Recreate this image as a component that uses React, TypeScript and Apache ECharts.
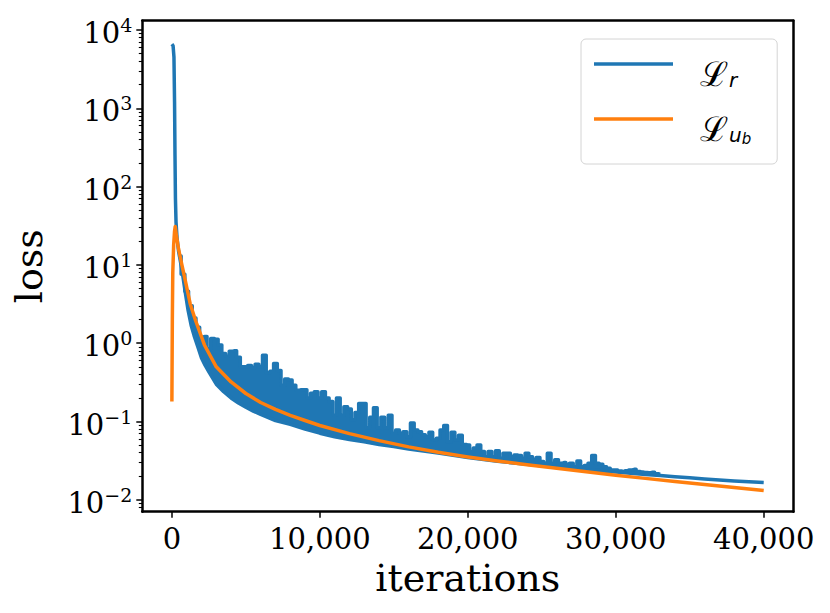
import React, { useEffect, useRef } from 'react';
import * as echarts from 'echarts';

// ---- tick labels ----
const xTicks = [0, 10000, 20000, 30000, 40000];
const yDecades = [-2, -1, 0, 1, 2, 3, 4];
const minorMultipliers = [2, 3, 4, 5, 6, 7, 8, 9];

// ---- L_{u_b} (orange) ----
const orangeIter = [0, 30, 60, 120, 180, 225, 300, 450, 675, 900, 1235, 1600, 2200, 3000, 4000, 5000, 6000, 7000, 8000, 9000, 10000, 12000, 14000, 16000, 18000, 20000, 22000, 24000, 26000, 28000, 30000, 32000, 34000, 36000, 38000, 40000];
const orangeLoss = [0.18, 2, 8, 18, 27, 31, 24, 16, 10, 6.4, 3.2, 1.95, 0.95, 0.5, 0.32, 0.228, 0.175, 0.143, 0.12, 0.103, 0.089, 0.07, 0.057, 0.0475, 0.0405, 0.0353, 0.0313, 0.0281, 0.0253, 0.0228, 0.0206, 0.0188, 0.0171, 0.0157, 0.0144, 0.0132];

// ---- L_r (blue): lower envelope of the oscillating band ----
const lowerIter = [0, 80, 140, 180, 210, 240, 280, 350, 450, 680, 900, 1100, 1300, 1500, 1750, 2000, 2250, 2500, 3000, 3500, 4000, 4500, 5000, 5500, 6000, 7000, 8000, 9000, 10000, 11000, 12000, 13000, 14000, 15000, 16000, 17000, 18000, 19000, 20000, 22000, 24000, 26000, 28000, 30000, 32000, 33000, 34000, 35000, 36000, 37000, 38000, 39000, 40000];
const lowerLoss = [6600, 6300, 4500, 1200, 250, 70, 35, 22, 15, 8.6, 4.5, 2.6, 1.7, 1.25, 0.9, 0.65, 0.52, 0.43, 0.3, 0.24, 0.2, 0.172, 0.152, 0.136, 0.123, 0.103, 0.092, 0.08, 0.071, 0.064, 0.059, 0.055, 0.051, 0.048, 0.0445, 0.042, 0.0395, 0.037, 0.0348, 0.031, 0.0285, 0.026, 0.0242, 0.0226, 0.021, 0.0204, 0.0197, 0.0191, 0.0185, 0.0179, 0.0174, 0.017, 0.0166];

// ---- L_r (blue): upper (spiky) edge, sampled every 250 iterations from 500 ----
const upperStart = 500;
const upperStep = 250;
const upperLoss = [
  13, 7.6, 4.6, 3.0, 2.1, 1.6, 1.2, 1.22, 0.85, 1.15,
  1.12, 0.95, 0.74, 0.68, 0.79, 0.8, 0.66, 0.5, 0.5, 0.52,
  0.49, 0.54, 0.5, 0.7, 0.42, 0.44, 0.55, 0.45, 0.29, 0.35,
  0.34, 0.29, 0.25, 0.255, 0.255, 0.2, 0.23, 0.24, 0.2, 0.24,
  0.2, 0.18, 0.12, 0.2, 0.12, 0.155, 0.145, 0.105, 0.13, 0.17,
  0.17, 0.083, 0.113, 0.15, 0.083, 0.113, 0.083, 0.12, 0.071, 0.078,
  0.071, 0.074, 0.064, 0.096, 0.078, 0.074, 0.068, 0.064, 0.073, 0.058,
  0.061, 0.078, 0.089, 0.055, 0.073, 0.058, 0.067, 0.051, 0.05, 0.0414,
  0.046, 0.05, 0.0414, 0.0356, 0.0413, 0.0356, 0.0422, 0.034, 0.0394, 0.0394,
  0.0356, 0.0375, 0.0367, 0.034, 0.0394, 0.0356, 0.0324, 0.0346, 0.0308, 0.0293,
  0.0394, 0.0293, 0.0324, 0.0293, 0.0299, 0.0284, 0.0293, 0.0265, 0.0314, 0.0265,
  0.0274, 0.0293, 0.0367, 0.0293, 0.0284, 0.0265, 0.0253, 0.0241, 0.0241, 0.0234,
  0.023, 0.0236, 0.0241, 0.0245, 0.023, 0.0226, 0.0223, 0.0222, 0.0225, 0.0216,
  0.0212,
];

const BLUE = '#1f77b4';
const ORANGE = '#ff7f0e';
const SERIF = 'DejaVu Serif';
const SANS = 'DejaVu Sans';

const X_MIN = -2000;
const X_MAX = 42000;
const Y_MIN = -2.1515;
const Y_MAX = 4.1187;

const toPts = (xs: number[], ys: number[]) => xs.map((x, i) => [x, Math.log10(ys[i])]);

export default function App() {
  const ref = useRef<HTMLDivElement>(null);

  useEffect(() => {
    document.body.style.margin = '0';
    document.documentElement.style.overflow = 'hidden';
    const chart = echarts.init(ref.current!, null, { renderer: 'svg' });

    const upperIter = upperLoss.map((_, i) => upperStart + i * upperStep);
    const upperPts = toPts(upperIter, upperLoss);
    const lowerPts = toPts(lowerIter, lowerLoss);
    const orangePts = toPts(orangeIter, orangeLoss);

    const minorVals: number[] = [];
    for (let n = -3; n <= 4; n++) {
      for (const k of minorMultipliers) {
        const v = n + Math.log10(k);
        if (v > Y_MIN && v < Y_MAX) minorVals.push(v);
      }
    }

    const frame = { show: true, onZero: false, lineStyle: { color: '#000', width: 2.5 } };

    chart.setOption({
      animation: false,
      grid: { left: 142.3, right: 36.7, top: 20.7, bottom: 101.3, containLabel: false },
      legend: {
        show: true,
        data: ['Lr', 'Lub'],
        orient: 'vertical',
        left: 581,
        top: 39,
        icon: 'rect',
        itemWidth: 79,
        itemHeight: 3.5,
        itemGap: 11,
        padding: [8, 26, 18, 13],
        backgroundColor: '#ffffff',
        borderColor: '#d4d4d4',
        borderWidth: 1,
        borderRadius: 5,
        selectedMode: false,
        formatter: (name: string) => (name === 'Lr' ? '{L|ℒ}{s|r}' : '{L|ℒ}{s|u}{b|b}'),
        textStyle: {
          color: '#000',
          rich: {
            L: { fontFamily: SERIF, fontSize: 34, lineHeight: 34, padding: [10, 0, 0, 22], verticalAlign: 'top', color: '#000' },
            s: { fontFamily: SANS, fontStyle: 'italic', fontSize: 20, lineHeight: 20, padding: [23, 0, 1, 1], verticalAlign: 'top', color: '#000' },
            b: { fontFamily: SANS, fontStyle: 'italic', fontSize: 15, lineHeight: 15, padding: [29, 0, 0, 0], verticalAlign: 'top', color: '#000' },
          },
        },
      },
      xAxis: [
        {
          type: 'value',
          min: X_MIN,
          max: X_MAX,
          position: 'bottom',
          z: 10,
          axisLine: frame,
          axisTick: { show: true, customValues: xTicks, length: 6, lineStyle: { color: '#000', width: 1.5 } },
          axisLabel: {
            customValues: xTicks,
            formatter: (v: number) => Number(v).toLocaleString('en-US'),
            fontFamily: SERIF,
            fontSize: 29,
            color: '#000',
            margin: 13,
          },
          splitLine: { show: false },
          name: 'iterations',
          nameLocation: 'middle',
          nameGap: 47,
          nameTextStyle: { fontFamily: SERIF, fontSize: 38, color: '#000' },
        },
        {
          type: 'value',
          min: X_MIN,
          max: X_MAX,
          position: 'top',
          z: 10,
          axisLine: frame,
          axisTick: { show: false },
          axisLabel: { show: false },
          splitLine: { show: false },
        },
      ],
      yAxis: [
        {
          type: 'value',
          min: Y_MIN,
          max: Y_MAX,
          position: 'left',
          z: 10,
          axisLine: frame,
          axisTick: { show: true, customValues: yDecades, length: 6, lineStyle: { color: '#000', width: 1.5 } },
          axisLabel: {
            customValues: yDecades,
            margin: 10,
            formatter: (v: number) => {
              const n = Math.round(v);
              const e = n < 0 ? '\u2212' + -n : String(n);
              return '{m|10}{e|' + e + '}';
            },
            rich: {
              m: { fontFamily: SERIF, fontSize: 29, lineHeight: 29, padding: [3, 0, 0, 0], verticalAlign: 'top', color: '#000' },
              e: { fontFamily: SERIF, fontSize: 19, lineHeight: 19, verticalAlign: 'top', color: '#000' },
            },
          },
          splitLine: { show: false },
          name: 'loss',
          nameLocation: 'middle',
          nameGap: 94,
          nameTextStyle: { fontFamily: SERIF, fontSize: 38, color: '#000' },
        },
        {
          type: 'value',
          min: Y_MIN,
          max: Y_MAX,
          position: 'left',
          z: 10,
          axisLine: { show: false, onZero: false },
          axisTick: { show: true, customValues: minorVals, length: 3.5, lineStyle: { color: '#000', width: 1.1 } },
          axisLabel: { show: false },
          splitLine: { show: false },
        },
        {
          type: 'value',
          min: Y_MIN,
          max: Y_MAX,
          position: 'right',
          z: 10,
          axisLine: frame,
          axisTick: { show: false },
          axisLabel: { show: false },
          splitLine: { show: false },
        },
      ],
      series: [
        {
          type: 'line',
          name: 'band',
          data: upperPts,
          step: 'middle',
          symbol: 'none',
          silent: true,
          lineStyle: { width: 0 },
          areaStyle: { color: BLUE, opacity: 1, origin: 'start' },
          z: 2,
        },
        {
          type: 'line',
          name: 'mask',
          data: lowerPts,
          symbol: 'none',
          silent: true,
          lineStyle: { width: 0 },
          areaStyle: { color: '#ffffff', opacity: 1, origin: 'start' },
          z: 2,
        },
        {
          type: 'line',
          name: 'lower',
          data: lowerPts,
          symbol: 'none',
          silent: true,
          lineStyle: { color: BLUE, width: 3.5, join: 'round' },
          z: 3,
        },
        {
          type: 'line',
          name: 'Lr',
          data: upperPts,
          step: 'middle',
          symbol: 'none',
          silent: true,
          itemStyle: { color: BLUE },
          lineStyle: { color: BLUE, width: 3.5, join: 'round' },
          z: 3,
        },
        {
          type: 'line',
          name: 'Lub',
          data: orangePts,
          symbol: 'none',
          silent: true,
          itemStyle: { color: ORANGE },
          lineStyle: { color: ORANGE, width: 3.5, join: 'round' },
          z: 4,
        },
      ],
    });

    return () => chart.dispose();
  }, []);

  return <div ref={ref} style={{ width: 830, height: 613 }} />;
}
